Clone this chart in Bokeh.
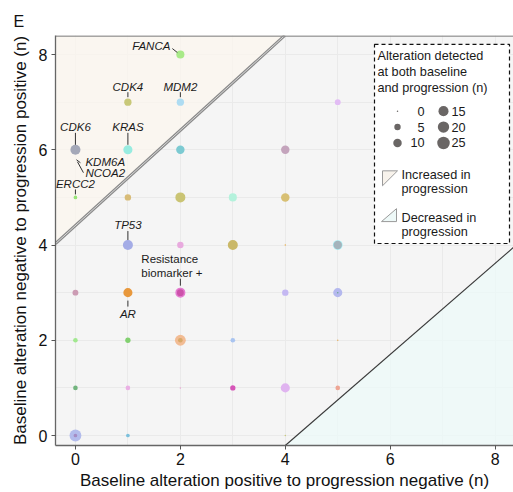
import numpy as np
from bokeh.plotting import figure
from bokeh.models import Range1d, FixedTicker, Title
from bokeh.core.properties import value
from bokeh.embed import file_html
from bokeh.resources import INLINE

# ---------------- data ----------------
pos_to_neg = [0, 0, 1, 4, 0, 1, 2, 3, 4, 5, 0, 1, 2, 2, 3, 5, 0, 1, 2, 2, 4, 5, 5,
              1, 2, 3, 4, 5, 5, 0, 1, 2, 3, 4, 0, 1, 2, 4, 1, 2, 5, 2]
neg_to_pos = [0, 0, 0, 0, 1, 1, 1, 1, 1, 1, 2, 2, 2, 2, 2, 2, 3, 3, 3, 3, 3, 3, 3,
              4, 4, 4, 4, 4, 4, 5, 5, 5, 5, 5, 6, 6, 6, 6, 7, 7, 7, 8]
both_detected = [22, 1, 1, 0, 2, 2, 0, 3, 12, 2, 2, 3, 18, 2, 2, 0, 4, 12, 15, 6, 5, 12, 0,
                 15, 5, 15, 0, 14, 10, 1, 5, 15, 9, 10, 15, 12, 10, 10, 7, 7, 4, 9]
point_colors = ["#b3bcec", "#a58cc4", "#7cc0dc", "#c8c87a", "#72b47e", "#eab0e4", "#eaa4d4",
                "#d655b8", "#e0b4f0", "#eea594", "#a2e890", "#82d070", "#f2bc94", "#d8a868",
                "#a9c4f0", "#e8b060", "#cc9cb4", "#e8983c", "#e47cd0", "#cc52aa", "#c4b8f2",
                "#b4b8ee", "#6aa88a", "#a4ace6", "#e8aade", "#cab868", "#e8b050", "#a8eef4",
                "#a4b4bc", "#98e478", "#d8bc78", "#cac474", "#b4f2dc", "#d8c074", "#a4a8b8",
                "#98ece0", "#7ccad2", "#c4a4bc", "#c8c878", "#aedcf2", "#e2bcf4", "#a8ea88"]

label_text = ["FANCA", "CDK4", "MDM2", "CDK6", "KRAS", "KDM6A", "NCOA2", "ERCC2", "TP53", "AR"]
label_x = [2, 1, 2, 0, 1, 0, 0, 0, 1, 1]
label_y = [8, 7, 7, 6, 6, 6, 6, 5, 4, 3]
marker_text = ["Resistance", "biomarker +"]
marker_x = 2
marker_y = 3

legend_sizes = [0, 5, 10, 15, 20, 25]
tick_values = [0, 2, 4, 6, 8]

# ---------------- layout ----------------
W, H = 513, 492
L, R, T, B = 55, 513, 35, 447
XMIN, XMAX, YMIN, YMAX = -0.38, 8.35, -0.21, 8.4
XS = (R - L) / (XMAX - XMIN)
YS = (B - T) / (YMAX - YMIN)
FONT = "Liberation Sans"

def dsize(n):
    return 1.5 + 2.2 * np.sqrt(np.asarray(n, dtype=float))

p = figure(width=W, height=H, output_backend="svg", toolbar_location=None,
           x_range=Range1d(XMIN, XMAX), y_range=Range1d(YMIN, YMAX),
           min_border_left=L, min_border_right=W - R, min_border_top=T,
           min_border_bottom=H - B)
p.extra_x_ranges = {"px": Range1d(L, R)}
p.extra_y_ranges = {"px": Range1d(B, T)}
p.background_fill_color = "#f5f5f5"
p.border_fill_color = "white"
p.outline_line_color = None

p.title = Title(text="E", align="left", offset=-42, standoff=12,
                text_font=FONT, text_font_size="16px", text_font_style="normal",
                text_color="#111111")

for g in p.xgrid + p.ygrid:
    g.ticker = FixedTicker(ticks=list(range(0, 9)))
    g.grid_line_color = "#eaeaea"
    g.grid_line_width = 1

for ax in (p.xaxis[0], p.yaxis[0]):
    ax.ticker = FixedTicker(ticks=tick_values)
    ax.minor_tick_line_color = None
    ax.major_tick_in = 0
    ax.major_tick_out = 4
    ax.major_tick_line_color = "#555555"
    ax.axis_line_color = "#666666"
    ax.axis_line_width = 1.3
    ax.major_label_text_font = FONT
    ax.major_label_text_font_size = "16px"
    ax.major_label_text_color = "#111111"
    ax.axis_label_text_font = FONT
    ax.axis_label_text_font_size = "17px"
    ax.axis_label_text_font_style = "normal"
    ax.axis_label_text_color = "#111111"
p.xaxis.axis_label = "Baseline alteration positive to progression negative (n)"
p.yaxis.axis_label = "Baseline alteration negative to progression positive (n)"
p.xaxis.major_label_standoff = 3
p.xaxis.axis_label_standoff = 3
p.yaxis.major_label_standoff = 4
p.yaxis.axis_label_standoff = 6

# ---------------- region triangles ----------------
up_c = 4.41
p.patch([XMIN, XMIN, YMAX - up_c], [XMIN + up_c, YMAX, YMAX],
        fill_color="#fcf6ee", fill_alpha=0.7, line_color=None)
p.patch([4, XMAX, XMAX], [YMIN, YMIN, 3.95],
        fill_color="#ecfbf9", fill_alpha=0.7, line_color=None)
p.line([XMIN, YMAX - up_c], [XMIN + up_c, YMAX], line_color="#8a8a8a", line_width=3)
p.line([XMIN, YMAX - up_c], [XMIN + up_c, YMAX], line_color="#eeeeee", line_width=0.8)
p.line([4, XMAX], [YMIN, 3.95], line_color="#3a3a3a", line_width=1.1)
# top border of panel
p.line([L, R], [T + 0.5, T + 0.5], x_range_name="px", y_range_name="px",
       line_color="#8a8a8a", line_width=1.5)

# ---------------- points ----------------
p.scatter(pos_to_neg, neg_to_pos, size=dsize(both_detected), fill_color=point_colors,
          fill_alpha=1.0, line_color=None)

# ---------------- gene labels ----------------
def px2dx(d):
    return d / XS

def px2dy(d):
    return -d / YS

lab_style = {
    "FANCA": dict(dx=-10, dy=-9, align="right", lead=((-8, -6), (-3, -2))),
    "CDK4": dict(dx=0, dy=-15, align="center", lead=((0, -10), (0, -5))),
    "MDM2": dict(dx=0, dy=-15, align="center", lead=((0, -10), (0, -5))),
    "CDK6": dict(dx=0, dy=-23, align="center", lead=((0, -17), (0, -5))),
    "KRAS": dict(dx=0, dy=-23, align="center", lead=((0, -17), (0, -5))),
    "KDM6A": dict(dx=10, dy=12, align="left", lead=((1, 10), (5, 13))),
    "NCOA2": dict(dx=10, dy=23, align="left", lead=((2, 12), (8, 23))),
    "ERCC2": dict(dx=0, dy=-13, align="center", lead=((0, -8), (0, -3))),
    "TP53": dict(dx=0, dy=-20, align="center", lead=((0, -14), (0, -5))),
    "AR": dict(dx=0, dy=21, align="center", lead=((0, 8), (0, 14))),
}
for g, gx, gy in zip(label_text, label_x, label_y):
    s = lab_style[g]
    p.text([gx + px2dx(s["dx"])], [gy + px2dy(s["dy"])], text=[g],
           text_font=value(FONT), text_font_size="11.5px", text_font_style="italic",
           text_color="#1a1a1a", text_align=s["align"], text_baseline="middle")
    (a, b), (c, d) = s["lead"]
    p.segment([gx + px2dx(a)], [gy + px2dy(b)], [gx + px2dx(c)], [gy + px2dy(d)],
              line_color="#333333", line_width=1)

p.text([marker_x + px2dx(-39)] * 2, [marker_y + px2dy(-34), marker_y + px2dy(-20)],
       text=marker_text, text_font=value(FONT), text_font_size="11.5px",
       text_color="#1a1a1a", text_align="left", text_baseline="middle")
p.segment([marker_x], [marker_y + px2dy(-14)], [marker_x], [marker_y + px2dy(-7)],
          line_color="#333333", line_width=1)

# ---------------- legend (pixel coordinates) ----------------
kw = dict(x_range_name="px", y_range_name="px")
p.quad(left=[374], right=[509], top=[44], bottom=[244], fill_color="white",
       line_color="#111111", line_width=1.2, line_dash="4 3", **kw)
p.text([377] * 3, [56, 72, 88],
       text=["Alteration detected", "at both baseline", "and progression (n)"],
       text_font=value(FONT), text_font_size="12.7px", text_color="#1a1a1a",
       text_align="left", text_baseline="middle", **kw)
col1, col2 = legend_sizes[:3], legend_sizes[3:]
rows = [111, 127, 143]
p.scatter([397] * 3, rows, size=dsize(col1), fill_color="#6a6665", line_color=None, **kw)
p.scatter([443] * 3, rows, size=dsize(col2), fill_color="#6a6665", line_color=None, **kw)
p.text([424] * 3, rows, text=[str(v) for v in col1], text_font=value(FONT),
       text_font_size="12.7px", text_color="#1a1a1a", text_align="right",
       text_baseline="middle", **kw)
p.text([451] * 3, rows, text=[str(v) for v in col2], text_font=value(FONT),
       text_font_size="12.7px", text_color="#1a1a1a", text_align="left",
       text_baseline="middle", **kw)
p.patch([382, 397, 382], [171, 171, 186], fill_color="#f8f3ec", line_color="#9a9a9a",
        line_width=1, **kw)
p.patch([381, 396, 396], [222, 222, 209], fill_color="#eef9f8", line_color="#9a9a9a",
        line_width=1, **kw)
p.text([401] * 4, [175, 189, 218, 232],
       text=["Increased in", "progression", "Decreased in", "progression"],
       text_font=value(FONT), text_font_size="12.7px", text_color="#1a1a1a",
       text_align="left", text_baseline="middle", **kw)

open("out.html", "w").write(file_html(p, INLINE))
